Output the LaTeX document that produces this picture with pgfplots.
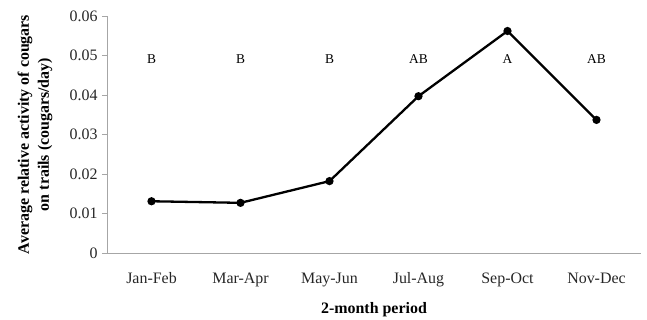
\documentclass[border=0pt]{standalone}
\usepackage{fontspec}
\setmainfont{Liberation Serif}
\usepackage{pgfplots}
\pgfplotsset{compat=1.18}
\begin{document}
\begin{tikzpicture}
\useasboundingbox (-107bp,-67bp) rectangle (540bp,253bp);
\begin{axis}[
  scale only axis,
  width=534bp, height=237bp,
  xmin=-0.5, xmax=5.5,
  ymin=0, ymax=0.06,
  axis lines*=left,
  axis line style={draw=gray!70, line width=0.8bp},
  xtick={0,1,2,3,4,5},
  xticklabels={Jan-Feb,Mar-Apr,May-Jun,Jul-Aug,Sep-Oct,Nov-Dec},
  xtick style={draw=none},
  minor xtick={-0.5,0.5,1.5,2.5,3.5,4.5,5.5},
  minor tick length=5bp,
  minor tick style={draw=gray!70, line width=0.8bp},
  ytick={0,0.01,0.02,0.03,0.04,0.05,0.06},
  yticklabels={0,0.01,0.02,0.03,0.04,0.05,0.06},
  scaled y ticks=false,
  tick align=outside,
  major tick length=5bp,
  ytick style={draw=gray!70, line width=0.8bp},
  tick label style={font=\fontsize{16}{18}\selectfont, text=black!85},
  /pgf/number format/assume math mode=true,
  xticklabel style={anchor=base, yshift=-25bp},
  yticklabel style={anchor=east, xshift=-1bp},
  xlabel={2-month period},
  ylabel={Average relative activity of cougars\\on trails (cougars/day)},
  every axis x label/.style={at={(axis description cs:0.5,0)}, anchor=base, yshift=-60bp, font=\fontsize{16}{20}\selectfont\bfseries},
  every axis y label/.style={at={(axis description cs:0,0.5)}, anchor=center, xshift=-72bp, rotate=90, align=center, font=\fontsize{16}{20}\selectfont\bfseries},
  clip=false,
]
\addplot[black, line width=2.3bp, mark=*, mark size=2.9bp] coordinates {
  (0,0.0131) (1,0.0127) (2,0.0182) (3,0.0397) (4,0.0562) (5,0.0337)
};
\node[font=\fontsize{13.5}{15}\selectfont] at (axis cs:0,0.0491) {B};
\node[font=\fontsize{13.5}{15}\selectfont] at (axis cs:1,0.0491) {B};
\node[font=\fontsize{13.5}{15}\selectfont] at (axis cs:2,0.0491) {B};
\node[font=\fontsize{13.5}{15}\selectfont] at (axis cs:3,0.0491) {AB};
\node[font=\fontsize{13.5}{15}\selectfont] at (axis cs:4,0.0491) {A};
\node[font=\fontsize{13.5}{15}\selectfont] at (axis cs:5,0.0491) {AB};
\end{axis}
\end{tikzpicture}
\end{document}
